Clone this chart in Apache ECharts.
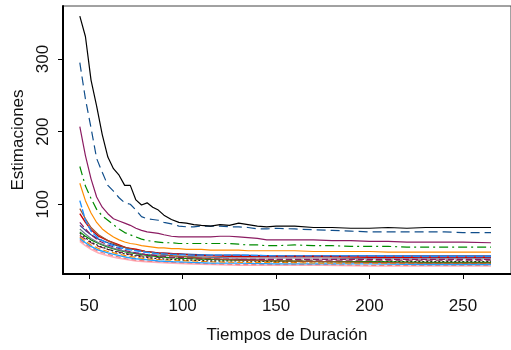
<!DOCTYPE html>
<html><head><meta charset="utf-8">
<script src="https://cdn.jsdelivr.net/npm/echarts@6/dist/echarts.min.js"></script>
<style>html,body{margin:0;padding:0;background:#fff}#c{width:511px;height:350px}</style>
</head><body><div id="c"></div>
<script>
// Tick labels
const xTicks = [50, 100, 150, 200, 250];
const yTicks = [100, 200, 300];

// Time grid for the upper curves
const xsTop = [45,48,51,54,57,60,63,66,69,72,75,78,81,84,87,90,94,98,102,106,110,115,120,125,130,135,140,145,150,160,170,180,190,200,210,220,230,240,250,265];
const sBlack   = [359,331,271,235,196,165,149,140,126,126,106,99,102,96,92,85,79,75,74,72,71,70,72,71,74,72,70,69,70,70,68,68,67,67,68,67,68,68,68,68];
const sBlueD   = [295,245,205,163,144,126,118,109,102,100,92,83,80,79,78,75,73,70,69,69,70,70,70,69,69,68,66,66,67,66,65,64,63,62,62,62,62,62,61,61];
const sMaroon  = [207,167,135,110,96,87,80,77,74,71,67,64,62,61,60,58,56,55,55,55,55,55,56,56,55,54,53,51,51,51,51,50,50,49,49,48,48,48,48,47];
const sGreenD  = [152,125,108,93,84,78,72,66,61,58,55,52,50,49,48,47,47,46,46,46,46,46,46,46,45,44,44,43,43,44,43,43,42,42,42,41,41,41,41,41];
const sOrange  = [129,105,88,75,66,60,55,51,48,46,45,43,42,41,40,40,39,39,38,38,38,37,37,37,37,36,36,36,36,36,35,35,35,35,34,34,34,34,34,34];

// Time grid for the lower bundle of curves
const xsLow = [45,48,51,55,60,65,70,75,80,87,95,105,115,130,150,175,200,230,265];
const sDodger  = [105,78,63,53,46,41,38,36,34,32,31,30,30,30,29,29,29,28,28];
const sSienna  = [94,80,68,58,50,44,40,37,35,32,29,27,25,23,22,21,20,19,19];
const sRed     = [87,75,65,56,50,45,40,38,35,33,32,30,29,28,28,28,27,27,27];
const sVioRed  = [75,66,58,50,44,40,36,33,31,29,27,26,25,24,24,24,24,24,24];
const sNavy    = [71,64,58,52,47,43,40,37,35,33,32,31,30,30,29,29,29,29,29];
const sSlate   = [66,59,53,47,42,38,35,33,31,30,29,28,27,26,26,26,25,25,25];
const sGreen2  = [62,56,51,46,41,37,34,32,30,28,26,25,24,23,22,21,21,20,20];
const sBlackD  = [60,54,48,43,38,34,31,29,27,25,24,23,22,22,21,21,21,21,21];
const sPurple  = [57,52,47,42,38,35,32,30,28,27,26,25,24,24,23,23,23,23,23];
const sOrange2 = [55,49,44,39,35,32,29,27,25,24,23,22,21,20,20,19,19,19,19];
const sSky     = [53,47,42,37,33,30,27,25,24,22,21,20,19,19,18,18,18,17,17];
const sSalmon  = [51,45,40,35,31,28,25,23,22,21,20,19,18,17,17,17,16,16,16];
const sPink    = [49,43,38,33,29,26,24,22,21,20,19,18,17,16,16,16,15,15,15];

function pairs(xs, ys){ return xs.map((x,i)=>[x, ys[i]]); }
function line(xs, ys, color, type, w){
  return {type:'line', data:pairs(xs,ys), showSymbol:false, symbol:'none',
    lineStyle:{color:color, width:w||1.2, type:type||'solid'}, silent:true, z:2};
}

const series = [
  line(xsLow, sPink, '#FFAEB9', 'solid', 1.6),
  line(xsLow, sSalmon, '#F08080', [5,3]),
  line(xsLow, sSky, '#1E9FFF', 'solid', 1.4),
  line(xsLow, sOrange2, '#FF8C00', [6,3]),
  line(xsLow, sPurple, '#8B2252', [7,3]),
  line(xsLow, sBlackD, '#222222', [2,2]),
  line(xsLow, sGreen2, '#008B00', 'solid'),
  line(xsLow, sSlate, '#6C7B8B', 'solid'),
  line(xsLow, sNavy, '#27408B', 'solid'),
  line(xsLow, sVioRed, '#8B1C62', [6,3]),
  line(xsLow, sRed, '#CD0000', 'solid', 1.4),
  line(xsLow, sSienna, '#A0522D', 'solid'),
  line(xsLow, sDodger, '#1E90FF', [7,2], 1.4),
  line(xsTop, sOrange, '#FF8C00', 'solid'),
  line(xsTop, sGreenD, '#008B00', [9,4,2,4]),
  line(xsTop, sMaroon, '#8B1C62', 'solid'),
  line(xsTop, sBlueD, '#104E8B', [9,5]),
  line(xsTop, sBlack, '#000000', 'solid')
];

const font = 'Liberation Sans, Arial, sans-serif';
const chart = echarts.init(document.getElementById('c'), null, {renderer:'canvas'});
chart.setOption({
  animation:false,
  backgroundColor:'#fff',
  grid:{left:63, top:6, width:458, height:268, show:true, borderColor:'#444', borderWidth:1, backgroundColor:'transparent'},
  xAxis:{type:'value', min:36, max:275.7,
    name:'Tiempos de Duración', nameLocation:'middle', nameGap:53,
    nameTextStyle:{fontFamily:font, fontSize:17, color:'#111'},
    axisLine:{show:true, onZero:false, lineStyle:{color:'#000', width:2}},
    axisTick:{show:true, inside:false, length:5, customValues:xTicks, lineStyle:{color:'#000', width:1}},
    axisLabel:{customValues:xTicks, fontFamily:font, fontSize:17, color:'#111', margin:24},
    splitLine:{show:false}},
  yAxis:{type:'value', min:4, max:373,
    name:'Estimaciones', nameLocation:'middle', nameGap:26,
    nameTextStyle:{fontFamily:font, fontSize:17, color:'#111'},
    axisLine:{show:true, onZero:false, lineStyle:{color:'#000', width:2}},
    axisTick:{show:true, inside:false, length:5, customValues:yTicks, lineStyle:{color:'#000', width:1}},
    axisLabel:{customValues:yTicks, rotate:90, fontFamily:font, fontSize:17, color:'#111', margin:11},
    splitLine:{show:false}},
  series:series
});
</script></body></html>
